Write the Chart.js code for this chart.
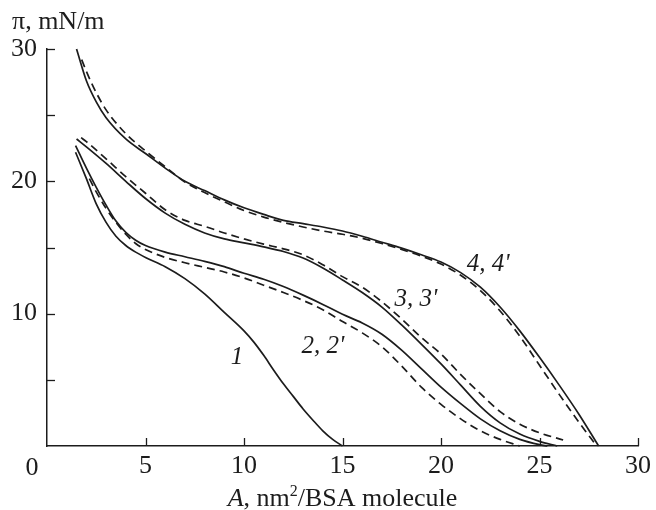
<!DOCTYPE html>
<html>
<head>
<meta charset="utf-8">
<script src="https://cdn.jsdelivr.net/npm/chart.js@4.4.0/dist/chart.umd.min.js"></script>
<style>
  body { margin: 0; background: #fff; }
  #wrap { width: 656px; height: 510px; }
</style>
</head>
<body>
<div id="wrap"><canvas id="isotherms"></canvas></div>
<script>
// curve data: A (nm^2/BSA molecule) vs pi (mN/m)
const curve1X = [1.45, 2, 2.5, 3, 3.5, 4, 4.5, 5, 6, 7, 8, 9, 10, 10.5, 11, 11.5, 12, 12.5, 13, 13.5, 14, 14.5, 15];
const curve1Y = [22.2, 20.2, 18.3, 16.9, 15.85, 15.15, 14.65, 14.25, 13.55, 12.65, 11.5, 10.1, 8.7, 7.85, 6.85, 5.75, 4.7, 3.75, 2.8, 1.95, 1.15, 0.5, 0];

const curve2X = [1.45, 2, 2.5, 3, 3.5, 4, 4.5, 5, 6, 7, 8, 9, 10, 11, 12, 13, 14, 15, 16, 17, 18, 19, 20, 21, 22, 23, 24, 25, 25.4];
const curve2Y = [22.7, 21.0, 19.55, 18.2, 17.0, 16.15, 15.55, 15.15, 14.65, 14.3, 13.95, 13.55, 13.05, 12.6, 12.05, 11.4, 10.7, 9.95, 9.3, 8.45, 7.25, 5.85, 4.45, 3.2, 2.05, 1.15, 0.5, 0.1, 0];
const curve2dX = [2.15, 2.5, 3, 3.5, 4, 4.5, 5, 6, 7, 8, 9, 10, 11, 12, 13, 14, 15, 16, 17, 18, 19, 20, 21, 22, 23, 24];
const curve2dY = [20.2, 19.2, 17.95, 16.9, 16.0, 15.3, 14.85, 14.25, 13.85, 13.5, 13.15, 12.7, 12.15, 11.6, 11.0, 10.3, 9.4, 8.55, 7.5, 6.05, 4.45, 3.15, 2.05, 1.15, 0.5, 0];

const curve3X = [1.5, 2, 3, 4, 5, 6, 7, 8, 9, 10, 11, 12, 13, 14, 15, 16, 17, 18, 19, 20, 21, 22, 23, 24, 25, 25.9];
const curve3Y = [23.2, 22.6, 21.35, 20.0, 18.7, 17.6, 16.75, 16.1, 15.65, 15.35, 15.05, 14.7, 14.2, 13.45, 12.55, 11.6, 10.5, 9.15, 7.7, 6.2, 4.6, 3.0, 1.75, 0.9, 0.35, 0];
const curve3dX = [1.73, 2, 3, 4, 5, 6, 7, 8, 9, 10, 11, 12, 13, 14, 15, 16, 17, 18, 19, 20, 21, 22, 23, 24, 25, 26.2];
const curve3dY = [23.3, 23.0, 21.7, 20.35, 19.1, 17.85, 17.05, 16.6, 16.1, 15.65, 15.25, 14.9, 14.45, 13.7, 12.8, 12.0, 10.9, 9.6, 8.2, 6.95, 5.4, 3.95, 2.6, 1.65, 1.0, 0.45];

const curve4X = [1.5, 2, 2.5, 3, 4, 5, 6, 7, 8, 9, 10, 11, 12, 13, 14, 15, 16, 17, 18, 19, 20, 21, 22, 23, 24, 25, 26, 27, 28];
const curve4Y = [30.0, 27.6, 26.0, 24.8, 23.2, 22.1, 21.0, 20.0, 19.3, 18.6, 18.0, 17.5, 17.05, 16.8, 16.55, 16.25, 15.85, 15.4, 14.95, 14.45, 13.9, 13.1, 12.0, 10.5, 8.7, 6.7, 4.6, 2.4, 0];
const curve4dX = [1.76, 2, 2.5, 3, 4, 5, 6, 7, 8, 9, 10, 11, 12, 13, 14, 15, 16, 17, 18, 19, 20, 21, 22, 23, 24, 25, 26, 27, 27.9];
const curve4dY = [29.2, 28.3, 26.7, 25.4, 23.6, 22.3, 21.1, 19.95, 19.15, 18.45, 17.8, 17.3, 16.9, 16.55, 16.25, 16.0, 15.7, 15.3, 14.85, 14.35, 13.75, 12.9, 11.75, 10.2, 8.3, 6.1, 3.9, 1.8, 0];

// curve labels, placed in data coordinates
const labelText = ['1', "2, 2'", "3, 3'", "4, 4'"];
const labelX = [9.64, 14.0, 18.73, 22.4];
const labelY = [6.73, 7.5, 11.1, 13.75];

const xTicks = [0, 5, 10, 15, 20, 25, 30];
const yTicks = [0, 5, 10, 15, 20, 25, 30];

const ink = '#1c1c1c';
const serif = '"Liberation Serif", "Times New Roman", serif';

function pts(xs, ys) {
    return xs.map((x, i) => ({ x: x, y: ys[i] }));
}

function series(xs, ys, dashed) {
    return {
        data: pts(xs, ys),
        borderColor: ink,
        borderWidth: 1.7,
        borderDash: dashed ? [8, 5] : [],
        pointRadius: 0,
        cubicInterpolationMode: 'monotone',
        fill: false,
        clip: false
    };
}

const textPlugin = {
    id: 'figureText',
    afterDraw(chart) {
        const ctx = chart.ctx;
        const xs = chart.scales.x, ys = chart.scales.y;
        const area = chart.chartArea;
        ctx.save();
        ctx.fillStyle = ink;
        ctx.strokeStyle = ink;
        ctx.lineWidth = 1.3;

        // inward tick marks
        yTicks.forEach(v => {
            if (v === 0) return;
            const py = Math.round(ys.getPixelForValue(v)) + 0.5;
            ctx.beginPath();
            ctx.moveTo(area.left, py);
            ctx.lineTo(area.left + 8, py);
            ctx.stroke();
        });
        xTicks.forEach(v => {
            if (v === 0) return;
            const px = Math.round(xs.getPixelForValue(v)) + 0.5;
            ctx.beginPath();
            ctx.moveTo(px, area.bottom);
            ctx.lineTo(px, area.bottom - 8);
            ctx.stroke();
        });

        // origin label
        ctx.font = '26px ' + serif;
        ctx.textAlign = 'center';
        ctx.textBaseline = 'alphabetic';
        ctx.fillText('0', area.left - 15, 475);

        // y title
        ctx.textAlign = 'left';
        ctx.fillText('\u03c0, mN/m', 12, 29);

        // x title: italic A, superscript 2
        const parts = [
            { t: 'A', f: 'italic 26px ' + serif, dy: 0 },
            { t: ', nm', f: '26px ' + serif, dy: 0 },
            { t: '2', f: '16px ' + serif, dy: -10 },
            { t: '/BSA molecule', f: '26px ' + serif, dy: 0 }
        ];
        let total = 0;
        parts.forEach(p => { ctx.font = p.f; p.w = ctx.measureText(p.t).width; total += p.w; });
        let cx = (area.left + area.right) / 2 - total / 2;
        parts.forEach(p => {
            ctx.font = p.f;
            ctx.fillText(p.t, cx, 506 + p.dy);
            cx += p.w;
        });

        // curve labels
        ctx.font = 'italic 25px ' + serif;
        ctx.textAlign = 'center';
        ctx.textBaseline = 'middle';
        labelText.forEach((t, i) => {
            ctx.fillText(t, xs.getPixelForValue(labelX[i]), ys.getPixelForValue(labelY[i]));
        });
        ctx.restore();
    }
};

const chart = new Chart(document.getElementById('isotherms'), {
    type: 'line',
    data: {
        datasets: [
            series(curve1X, curve1Y, false),
            series(curve2X, curve2Y, false),
            series(curve2dX, curve2dY, true),
            series(curve3X, curve3Y, false),
            series(curve3dX, curve3dY, true),
            series(curve4X, curve4Y, false),
            series(curve4dX, curve4dY, true)
        ]
    },
    options: {
        responsive: true,
        maintainAspectRatio: false,
        animation: false,
        layout: { padding: { top: 49, right: 18, left: 0, bottom: 0 } },
        plugins: {
            legend: { display: false },
            tooltip: { enabled: false }
        },
        scales: {
            x: {
                type: 'linear',
                min: 0,
                max: 30,
                afterFit: s => { s.height = 64; },
                afterBuildTicks: s => { s.ticks = xTicks.map(v => ({ value: v })); },
                grid: { display: false, drawTicks: false },
                border: { display: true, color: ink, width: 1.5 },
                ticks: {
                    padding: 5,
                    color: ink,
                    font: { family: serif, size: 26 },
                    maxRotation: 0,
                    callback: v => (v === 0 ? '' : v)
                }
            },
            y: {
                min: 0,
                max: 30,
                afterFit: s => { s.width = 47; },
                afterBuildTicks: s => { s.ticks = yTicks.map(v => ({ value: v })); },
                grid: { display: false, drawTicks: false },
                border: { display: true, color: ink, width: 1.5 },
                ticks: {
                    padding: 10,
                    color: ink,
                    font: { family: serif, size: 26 },
                    callback: v => (v !== 0 && v % 10 === 0 ? v : '')
                }
            }
        }
    },
    plugins: [textPlugin]
});
</script>
</body>
</html>
